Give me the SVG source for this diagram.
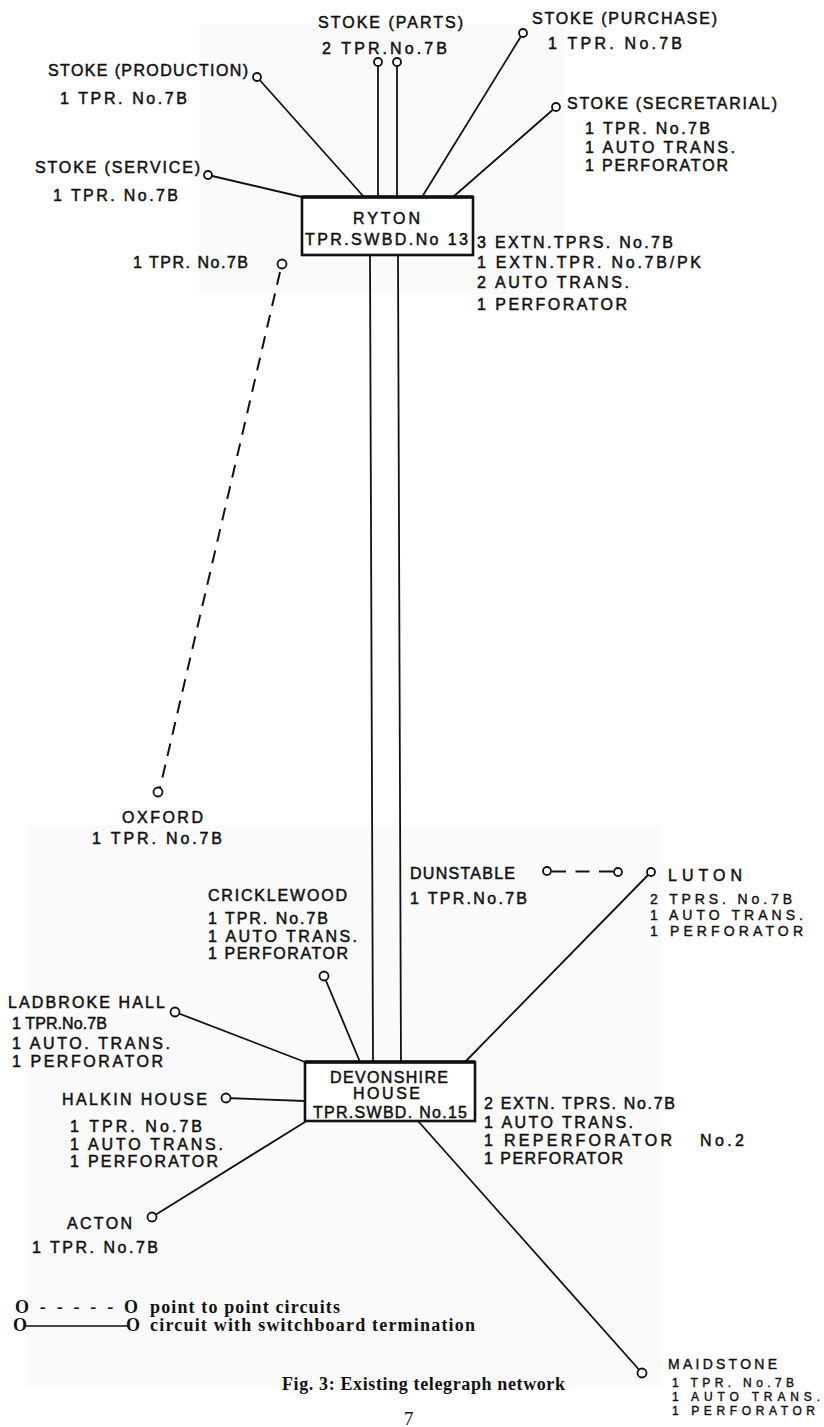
<svg xmlns="http://www.w3.org/2000/svg" width="824" height="1427" viewBox="0 0 824 1427">
<style>
text{font-family:"Liberation Sans",Arial,sans-serif;font-size:16px;fill:#111;stroke:#111;stroke-width:0.5px}
.sm{font-size:14px;stroke-width:0.4px}
.xs{font-size:12px;stroke-width:0.4px}
.lg{font-family:"Liberation Serif","Times New Roman",serif;font-size:18px;font-weight:bold;stroke:none}
.ln{stroke:#111;stroke-width:1.8;fill:none;stroke-linecap:round}
.ds{stroke:#111;stroke-width:2;fill:none;stroke-dasharray:13 9}
.pt{fill:#fff;stroke:#111;stroke-width:1.8}
.box{fill:#fff;stroke:#111;stroke-width:2.6}
</style>
<rect width="824" height="1427" fill="#fff"/>
<rect x="199" y="24" width="365" height="270" fill="#fafafa"/>
<rect x="25" y="825" width="637" height="562" fill="#fafafa"/>

<g id="connectors">
<line class="ln" x1="257" y1="77" x2="364" y2="197"/>
<line class="ln" x1="208" y1="175" x2="302" y2="197"/>
<line class="ln" x1="378" y1="62" x2="378" y2="197"/>
<line class="ln" x1="397" y1="62" x2="397" y2="197"/>
<line class="ln" x1="523" y1="33" x2="422" y2="197"/>
<line class="ln" x1="556" y1="107" x2="453" y2="197"/>
<line class="ds" x1="280" y1="272" x2="160" y2="788"/>
<line class="ln" x1="370" y1="255" x2="373" y2="1062"/>
<line class="ln" x1="398" y1="255" x2="401" y2="1067"/>
<line class="ln" x1="324" y1="976" x2="360" y2="1062"/>
<line class="ln" x1="175" y1="1012" x2="305" y2="1062"/>
<line class="ln" x1="226" y1="1098" x2="305" y2="1101"/>
<line class="ln" x1="152" y1="1217" x2="305" y2="1122"/>
<line class="ln" x1="651" y1="872" x2="465" y2="1062"/>
<line class="ln" x1="418" y1="1121" x2="642" y2="1373"/>
<line x1="552" y1="871.5" x2="613" y2="871.5" stroke="#111" stroke-width="2" stroke-dasharray="14 9.5"/>
</g>

<g id="ryton">
<rect class="box" x="302" y="197" width="171" height="58"/>
<line x1="302" y1="197" x2="473" y2="197" stroke="#111" stroke-width="3.5"/>
<text x="353" y="224" textLength="67" lengthAdjust="spacing">RYTON</text>
<text x="305" y="245" textLength="163" lengthAdjust="spacing">TPR.SWBD.No 13</text>
<text x="477" y="248" textLength="196" lengthAdjust="spacing">3 EXTN.TPRS. No.7B</text>
<text x="477" y="268" textLength="224" lengthAdjust="spacing">1 EXTN.TPR. No.7B/PK</text>
<text x="477" y="288" textLength="152" lengthAdjust="spacing">2 AUTO  TRANS.</text>
<text x="477" y="310" textLength="150" lengthAdjust="spacing">1 PERFORATOR</text>
</g>

<g id="stoke-parts">
<circle class="pt" cx="378" cy="62" r="4"/>
<circle class="pt" cx="397" cy="62" r="4"/>
<text x="318" y="28" textLength="145" lengthAdjust="spacing">STOKE (PARTS)</text>
<text x="322" y="54" textLength="125" lengthAdjust="spacing">2 TPR.No.7B</text>
</g>

<g id="stoke-purchase">
<circle class="pt" cx="523" cy="33" r="4"/>
<text x="532" y="24" textLength="185" lengthAdjust="spacing">STOKE (PURCHASE)</text>
<text x="548" y="49" textLength="134" lengthAdjust="spacing">1 TPR.  No.7B</text>
</g>

<g id="stoke-production">
<circle class="pt" cx="257" cy="77" r="4"/>
<text x="48" y="76" textLength="200" lengthAdjust="spacing">STOKE (PRODUCTION)</text>
<text x="60" y="104" textLength="127" lengthAdjust="spacing">1 TPR. No.7B</text>
</g>

<g id="stoke-secretarial">
<circle class="pt" cx="556" cy="107" r="4"/>
<text x="567" y="109" textLength="210" lengthAdjust="spacing">STOKE (SECRETARIAL)</text>
<text x="585" y="134" textLength="125" lengthAdjust="spacing">1 TPR. No.7B</text>
<text x="585" y="153" textLength="150" lengthAdjust="spacing">1 AUTO TRANS.</text>
<text x="585" y="171" textLength="143" lengthAdjust="spacing">1 PERFORATOR</text>
</g>

<g id="stoke-service">
<circle class="pt" cx="208" cy="175" r="4"/>
<text x="35" y="173" textLength="165" lengthAdjust="spacing">STOKE (SERVICE)</text>
<text x="53" y="201" textLength="125" lengthAdjust="spacing">1 TPR. No.7B</text>
</g>

<g id="oxford">
<circle class="pt" cx="282" cy="264" r="4.5"/>
<text x="133" y="268" textLength="115" lengthAdjust="spacing">1 TPR. No.7B</text>
<circle class="pt" cx="158" cy="792" r="4.5"/>
<text x="122" y="823" textLength="81" lengthAdjust="spacing">OXFORD</text>
<text x="92" y="844" textLength="130" lengthAdjust="spacing">1 TPR. No.7B</text>
</g>

<g id="cricklewood">
<circle class="pt" cx="324" cy="976" r="4.5"/>
<text x="208" y="901" textLength="139" lengthAdjust="spacing">CRICKLEWOOD</text>
<text x="208" y="924" textLength="120" lengthAdjust="spacing">1 TPR. No.7B</text>
<text x="208" y="942" textLength="149" lengthAdjust="spacing">1 AUTO TRANS.</text>
<text x="208" y="959" textLength="140" lengthAdjust="spacing">1 PERFORATOR</text>
</g>

<g id="dunstable">
<circle class="pt" cx="547" cy="871" r="4"/>
<circle class="pt" cx="618" cy="872" r="4"/>
<text x="410" y="879" textLength="105" lengthAdjust="spacing">DUNSTABLE</text>
<text x="410" y="904" textLength="117" lengthAdjust="spacing">1 TPR.No.7B</text>
</g>

<g id="luton">
<circle class="pt" cx="651" cy="872" r="4"/>
<text x="668" y="881" textLength="74" lengthAdjust="spacing">LUTON</text>
<text class="sm" x="650" y="904" textLength="142" lengthAdjust="spacing">2 TPRS. No.7B</text>
<text class="sm" x="650" y="920" textLength="153" lengthAdjust="spacing">1 AUTO TRANS.</text>
<text class="sm" x="650" y="936" textLength="153" lengthAdjust="spacing">1 PERFORATOR</text>
</g>

<g id="ladbroke-hall">
<circle class="pt" cx="175" cy="1012" r="4.5"/>
<text x="8" y="1008" textLength="157" lengthAdjust="spacing">LADBROKE HALL</text>
<text x="12" y="1029" textLength="95" lengthAdjust="spacing">1 TPR.No.7B</text>
<text x="12" y="1049" textLength="158" lengthAdjust="spacing">1 AUTO. TRANS.</text>
<text x="12" y="1067" textLength="151" lengthAdjust="spacing">1 PERFORATOR</text>
</g>

<g id="devonshire-house">
<rect class="box" x="305" y="1062" width="170" height="59"/>
<line x1="305" y1="1062" x2="475" y2="1062" stroke="#111" stroke-width="3.5"/>
<text x="330" y="1083" textLength="118" lengthAdjust="spacing">DEVONSHIRE</text>
<text x="353" y="1099" textLength="67" lengthAdjust="spacing">HOUSE</text>
<text x="313" y="1118" textLength="154" lengthAdjust="spacing">TPR.SWBD. No.15</text>
<text x="484" y="1109" textLength="191" lengthAdjust="spacing">2 EXTN. TPRS. No.7B</text>
<text x="484" y="1128" textLength="149" lengthAdjust="spacing">1 AUTO TRANS.</text>
<text x="484" y="1146"><tspan textLength="188" lengthAdjust="spacing">1 REPERFORATOR</tspan><tspan x="700" textLength="44" lengthAdjust="spacing">No.2</tspan></text>
<text x="484" y="1164" textLength="139" lengthAdjust="spacing">1 PERFORATOR</text>
</g>

<g id="halkin-house">
<circle class="pt" cx="226" cy="1098" r="4.5"/>
<text x="62" y="1105" textLength="145" lengthAdjust="spacing">HALKIN HOUSE</text>
<text x="70" y="1132" textLength="132" lengthAdjust="spacing">1 TPR. No.7B</text>
<text x="70" y="1150" textLength="153" lengthAdjust="spacing">1 AUTO TRANS.</text>
<text x="70" y="1167" textLength="148" lengthAdjust="spacing">1 PERFORATOR</text>
</g>

<g id="acton">
<circle class="pt" cx="152" cy="1217" r="4.5"/>
<text x="67" y="1229" textLength="65" lengthAdjust="spacing">ACTON</text>
<text x="32" y="1253" textLength="126" lengthAdjust="spacing">1 TPR. No.7B</text>
</g>

<g id="maidstone">
<circle class="pt" cx="642" cy="1373" r="4.5"/>
<text class="sm" x="668" y="1369" textLength="109" lengthAdjust="spacing">MAIDSTONE</text>
<text class="xs" x="672" y="1387" textLength="122" lengthAdjust="spacing">1 TPR. No.7B</text>
<text class="xs" x="672" y="1401" textLength="148" lengthAdjust="spacing">1 AUTO TRANS.</text>
<text class="xs" x="672" y="1415" textLength="143" lengthAdjust="spacing">1 PERFORATOR</text>
</g>

<g id="legend">
<text class="lg" x="15" y="1313"><tspan textLength="123" lengthAdjust="spacing">O - - - - - O</tspan><tspan x="150" textLength="190" lengthAdjust="spacing">point to point circuits</tspan></text>
<text class="lg" x="13" y="1331">O</text>
<line x1="26" y1="1326" x2="128" y2="1326" stroke="#111" stroke-width="1.6"/>
<text class="lg" x="126" y="1331"><tspan>O</tspan><tspan x="150" textLength="325" lengthAdjust="spacing">circuit with switchboard termination</tspan></text>
<text class="lg" x="282" y="1390" textLength="283" lengthAdjust="spacing">Fig. 3: Existing telegraph network</text>
<text class="lg" x="404" y="1425" style="font-size:19px;font-weight:normal">7</text>
</g>
</svg>
